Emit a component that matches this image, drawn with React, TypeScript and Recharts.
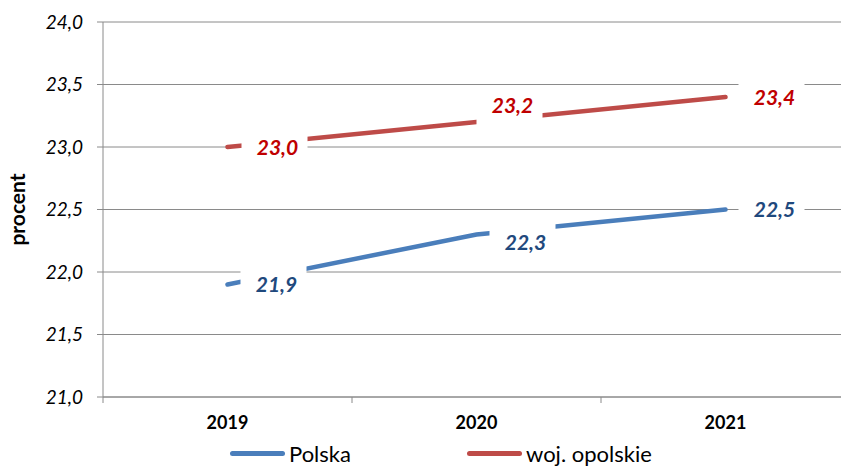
import React from 'react';
import { LineChart, Line, XAxis, YAxis, CartesianGrid, LabelList, Label } from 'recharts';

const years = ['2019', '2020', '2021'];
const polska = [21.9, 22.3, 22.5];
const opolskie = [23.0, 23.2, 23.4];
const yTicks = [21, 21.5, 22, 22.5, 23, 23.5, 24];

const data = years.map((year, i) => ({ year, polska: polska[i], opolskie: opolskie[i] }));

// label placement tweaks (Excel-style manual positions)
const polskaLabelPos = [{ dx: 49, dy: 0 }, { dx: 49, dy: 8 }, { dx: 49, dy: 0 }];
const opolskieLabelPos = [{ dx: 50, dy: 0 }, { dx: 36, dy: -17 }, { dx: 49, dy: 0 }];

const CHART_W = 850;
const CHART_H = 468;
const AXIS_W = 103;
const BAND = (CHART_W - AXIS_W) / years.length;
const FONT = 'Lato, "Open Sans", sans-serif';
const GRID = '#8a8a8a';

const fmt = (v: number) => v.toFixed(1).replace('.', ',');

const makeLabel = (color: string, pos: { dx: number; dy: number }[]) => (props: any) => {
  const { x, y, value, index } = props;
  const p = pos[index] || { dx: 49, dy: 0 };
  const cx = x + p.dx;
  const cy = y + p.dy;
  return (
    <g>
      <rect x={cx - 36} y={cy - 20} width={66} height={40} fill="#fff" />
      <text x={cx} y={cy} dy="0.36em" textAnchor="middle" fill={color}
        style={{ fontFamily: FONT, fontSize: 21, fontWeight: 'bold', fontStyle: 'italic' }}>
        {fmt(value)}
      </text>
    </g>
  );
};

const YearTick = (props: any) => {
  const { x, y, payload, index } = props;
  return (
    <g>
      {index === 0 && <line x1={x - BAND / 2} x2={x - BAND / 2} y1={y - 8} y2={y - 2} stroke={GRID} />}
      <line x1={x + BAND / 2} x2={x + BAND / 2} y1={y - 8} y2={y - 2} stroke={GRID} />
      <text x={x} y={y + 18} dy="0.36em" textAnchor="middle" fill="#000"
        style={{ fontFamily: FONT, fontSize: 18, fontWeight: 'bold' }}>
        {payload.value}
      </text>
    </g>
  );
};

const ValueTick = (props: any) => {
  const { x, y, payload } = props;
  return (
    <text x={x} y={y} dy="0.36em" textAnchor="end" fill="#000"
      style={{ fontFamily: FONT, fontSize: 19, fontStyle: 'italic' }}>
      {fmt(payload.value)}
    </text>
  );
};

export default function App() {
  return (
    <div style={{ position: 'fixed', left: 0, top: 0, width: 841, height: 468, overflow: 'hidden', background: '#fff' }}>
      <LineChart width={CHART_W} height={CHART_H} data={data}
        margin={{ top: 22, right: 0, bottom: 0, left: 0 }}>
        <CartesianGrid vertical={false} stroke={GRID} />
        <XAxis dataKey="year" scale="band" height={71} tickLine={false}
          axisLine={{ stroke: GRID }} tick={<YearTick />} interval={0} />
        <YAxis domain={[21, 24]} ticks={yTicks} width={AXIS_W}
          axisLine={{ stroke: GRID }} tickLine={{ stroke: GRID }} tickSize={6} tickMargin={14}
          tick={<ValueTick />} interval={0}>
          <Label value="procent" angle={-90} position="insideLeft" offset={18}
            style={{ textAnchor: 'middle', fontFamily: FONT, fontSize: 21, fontWeight: 'bold', fill: '#000' }} />
        </YAxis>
        <Line dataKey="polska" name="Polska" stroke="#4A7EBB" strokeWidth={4.5} strokeLinecap="round"
          dot={false} activeDot={false} isAnimationActive={false}>
          <LabelList dataKey="polska" content={makeLabel('#1F497D', polskaLabelPos)} />
        </Line>
        <Line dataKey="opolskie" name="woj. opolskie" stroke="#BE4B48" strokeWidth={4.5} strokeLinecap="round"
          dot={false} activeDot={false} isAnimationActive={false}>
          <LabelList dataKey="opolskie" content={makeLabel('#C00000', opolskieLabelPos)} />
        </Line>
      </LineChart>
      {[
        { name: 'Polska', color: '#4A7EBB', left: 230 },
        { name: 'woj. opolskie', color: '#BE4B48', left: 467 },
      ].map((item) => (
        <div key={item.name} style={{ position: 'absolute', left: item.left, top: 440, height: 26,
          display: 'flex', alignItems: 'center', fontFamily: FONT, fontSize: 22, color: '#000', whiteSpace: 'nowrap' }}>
          <span style={{ display: 'inline-block', width: 55, height: 5, borderRadius: 3, background: item.color, marginRight: 4 }} />
          {item.name}
        </div>
      ))}
    </div>
  );
}
